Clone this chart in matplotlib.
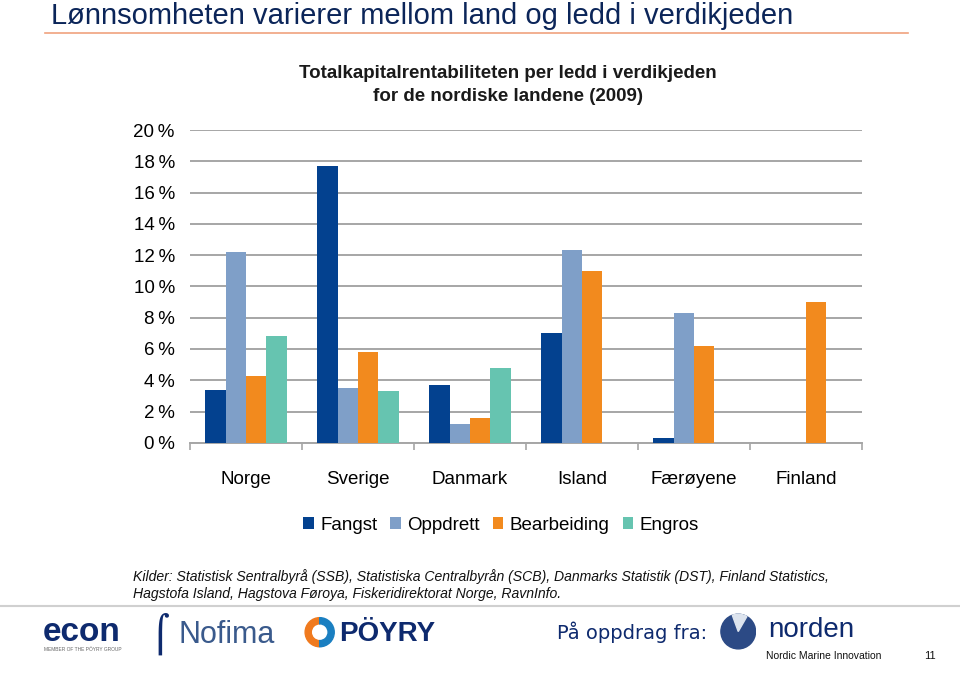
import matplotlib.pyplot as plt
import numpy as np
from matplotlib.lines import Line2D
from matplotlib.patches import Circle, Wedge

# Data, percent
countries = ['Norge', 'Sverige', 'Danmark', 'Island', 'Færøyene', 'Finland']
fangst = [3.4, 17.7, 3.7, 7.0, 0.3, np.nan]
oppdrett = [12.2, 3.5, 1.2, 12.3, 8.3, np.nan]
bearbeiding = [4.3, 5.8, 1.6, 11.0, 6.2, 9.0]
engros = [6.8, 3.3, 4.8, np.nan, np.nan, np.nan]

series = ['Fangst', 'Oppdrett', 'Bearbeiding', 'Engros']
colors = ['#03418f', '#7f9fc8', '#f28a1e', '#66c4b0']
yticks = list(range(0, 21, 2))

plt.rcParams['font.family'] = ['Liberation Sans', 'DejaVu Sans']

fig = plt.figure(figsize=(9.6, 6.74), dpi=100)

# slide title
fig.text(0.053, 0.965, 'Lønnsomheten varierer mellom land og ledd i verdikjeden',
         fontsize=21, color='#0b2559', va='baseline', ha='left')
fig.add_artist(Line2D([0.047, 0.946], [0.951, 0.951], color='#f0a27e', lw=1.2))

# chart title
fig.text(0.529, 0.884, 'Totalkapitalrentabiliteten per ledd i verdikjeden',
         fontsize=13.5, fontweight='bold', color='#1a1a1a', ha='center', va='baseline')
fig.text(0.529, 0.850, 'for de nordiske landene (2009)',
         fontsize=13.5, fontweight='bold', color='#1a1a1a', ha='center', va='baseline')

ax = fig.add_axes([0.198, 0.343, 0.700, 0.464])
x = np.arange(len(countries))
w = 0.182
for i, (vals, c) in enumerate(zip([fangst, oppdrett, bearbeiding, engros], colors)):
    ax.bar(x + (i - 1.5) * w, vals, width=w, color=c, label=series[i], zorder=3)

ax.set_ylim(0, 20)
ax.set_xlim(-0.5, 5.5)
ax.set_yticks(yticks)
ax.set_yticklabels([f'{v}\u2009%' for v in yticks], fontsize=13.5)
ax.yaxis.grid(True, color='#a6a6a6', lw=1.4, zorder=0)
ax.tick_params(axis='y', length=0, pad=11)
ax.set_xticks(x)
ax.set_xticklabels(countries, fontsize=13.5)
ax.tick_params(axis='x', which='major', length=0, pad=20)
ax.set_xticks(np.arange(-0.5, 6, 1), minor=True)
ax.tick_params(axis='x', which='minor', length=5, color='#a6a6a6', width=1.2)
for s in ['top', 'right', 'left']:
    ax.spines[s].set_visible(False)
ax.spines['bottom'].set_color('#a6a6a6')
ax.spines['bottom'].set_linewidth(1.4)

fig.legend(loc='center', bbox_to_anchor=(0.522, 0.221), ncol=4, frameon=False,
           prop={'size': 13.5}, handlelength=0.55, handleheight=0.55,
           handletextpad=0.35, columnspacing=0.7)

# sources
fig.text(0.139, 0.132, 'Kilder: Statistisk Sentralbyrå (SSB), Statistiska Centralbyrån (SCB), '
         'Danmarks Statistik (DST), Finland Statistics,\nHagstofa Island, Hagstova Føroya, '
         'Fiskeridirektorat Norge, RavnInfo.',
         fontsize=10.1, style='italic', color='#111111', ha='left', va='center',
         linespacing=1.2)

fig.add_artist(Line2D([0.0, 1.0], [0.101, 0.101], color='#d0d0d0', lw=1.5))

# footer logos as text
fig.text(0.045, 0.062, 'econ', fontsize=24, fontweight='bold', color='#0e2a6e', va='center')
fig.text(0.046, 0.036, 'MEMBER OF THE PÖYRY GROUP', fontsize=3.5, color='#666666', va='center')
fig.text(0.186, 0.058, 'Nofima', fontsize=22, color='#3a5a8c', va='center')
fig.text(0.157, 0.060, '\u2320', fontsize=26, color='#0e2a6e', va='center', family='DejaVu Sans')
fig.text(0.353, 0.060, 'PÖYRY', fontsize=20, fontweight='bold', color='#0e2a6e', va='center')

lax = fig.add_axes([0.316, 0.038, 0.034, 0.048])
lax.set_aspect('equal')
lax.axis('off')
lax.set_xlim(-1, 1)
lax.set_ylim(-1, 1)
lax.add_patch(Wedge((0, 0), 0.9, 90, 270, width=0.38, color='#f07a1e'))
lax.add_patch(Wedge((0, 0), 0.9, 270, 90, width=0.38, color='#1a7fc1'))

fig.text(0.580, 0.062, 'På oppdrag fra:', fontsize=14, color='#0e2a6e', family='DejaVu Sans',
         va='center')
nax = fig.add_axes([0.750, 0.035, 0.038, 0.056])
nax.set_aspect('equal')
nax.axis('off')
nax.set_xlim(-1, 1)
nax.set_ylim(-1, 1)
nax.add_patch(Circle((0, 0), 0.95, color='#2c4a85'))
nax.add_patch(Wedge((0, 0), 0.95, 60, 110, color='#dde4ee'))
fig.text(0.800, 0.066, 'norden', fontsize=20, color='#0e2a6e', va='center')
fig.text(0.798, 0.027, 'Nordic Marine Innovation', fontsize=7.5, color='#111111', va='center')
fig.text(0.963, 0.027, '11', fontsize=8, color='#111111', va='center')

fig.savefig('out.png', dpi=100)
